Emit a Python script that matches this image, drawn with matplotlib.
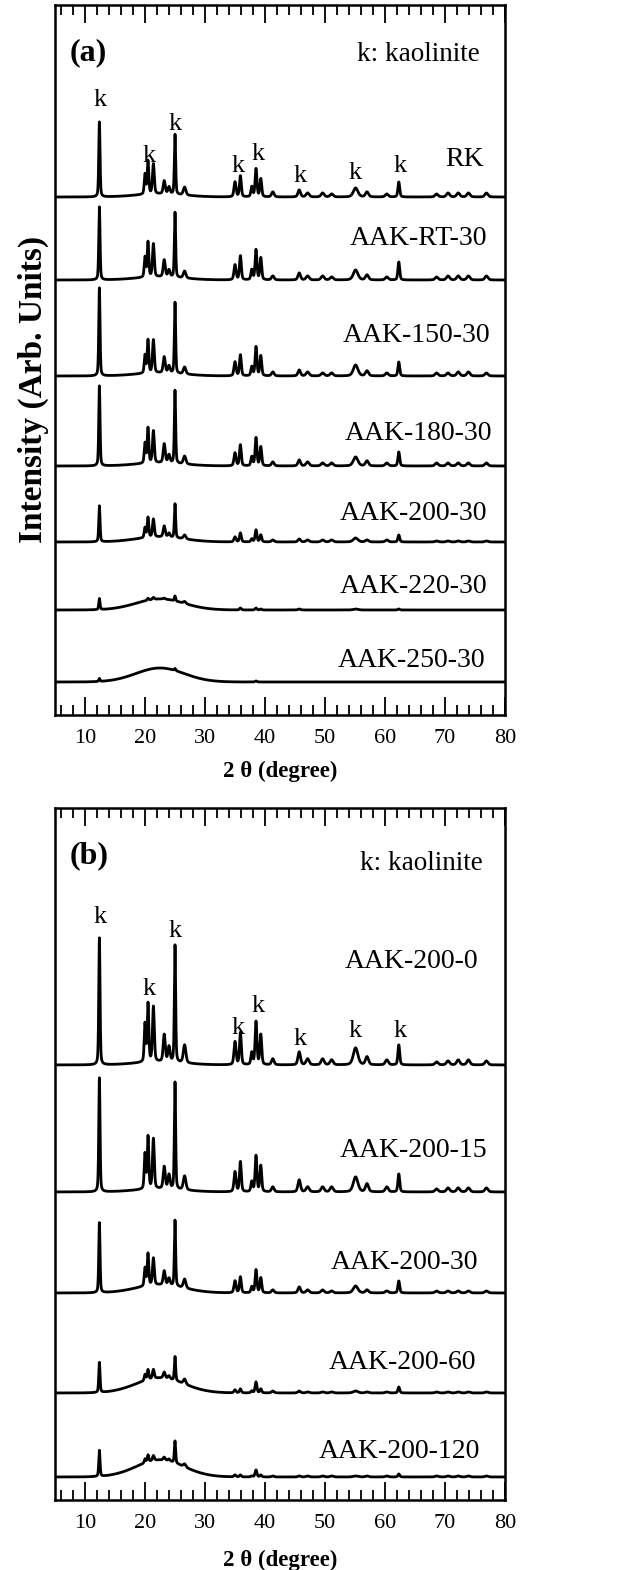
import numpy as np
import matplotlib
matplotlib.use("Agg")
import matplotlib.pyplot as plt
from matplotlib.ticker import MultipleLocator

plt.rcParams['font.family'] = ['Liberation Serif', 'DejaVu Serif']

# ---- data (heights in arb. units ~ pixels) ----
peak_pos = [12.4, 20.0, 20.5, 21.4, 23.2, 24.0, 25.0, 26.6, 35.0, 35.9, 37.8,
            38.5, 39.3, 41.3, 45.7, 47.1, 49.6, 51.1, 55.1, 57.0, 60.3, 62.3,
            68.6, 70.5, 72.2, 73.9, 76.9]
peak_fwhm = [0.25, 0.3, 0.3, 0.35, 0.4, 0.4, 0.25, 0.5, 0.4, 0.35, 0.35,
             0.35, 0.35, 0.5, 0.5, 0.6, 0.6, 0.6, 0.9, 0.6, 0.6, 0.35,
             0.6, 0.6, 0.6, 0.6, 0.6]

# panel (a): acid activation temperature series
names_a = ['RK', 'AAK-RT-30', 'AAK-150-30', 'AAK-180-30', 'AAK-200-30',
           'AAK-220-30', 'AAK-250-30']
base_a = [518, 435, 339, 249, 173, 105, 33]
hump_a = [3, 3, 3, 3, 5, 11, 14]
heights_a = [
    [75, 20, 33, 30, 13, 7, 60, 8, 15, 21, 10, 28, 18, 5, 7, 4, 4, 3, 9, 5, 3, 15, 3, 4, 4, 4, 4],
    [73, 20, 35, 33, 17, 7, 65, 7, 15, 24, 10, 30, 22, 4, 7, 4, 4, 3, 10, 5, 3, 18, 3, 4, 4, 4, 4],
    [88, 18, 33, 33, 16, 7, 71, 7, 14, 21, 9, 29, 20, 4, 6, 4, 3, 3, 11, 5, 3, 14, 3, 3, 4, 4, 3],
    [80, 20, 35, 32, 19, 8, 73, 8, 13, 21, 9, 28, 19, 4, 6, 4, 3, 3, 9, 5, 3, 14, 3, 3, 3, 3, 3],
    [36, 10, 20, 18, 11, 4, 34, 4, 5, 9, 3, 12, 7, 2, 3, 2, 2, 2, 4, 2, 2, 7, 1, 1, 1, 1, 1],
    [11, 0, 2, 2, 1, 0, 5, 2, 0, 2, 0, 2, 1, 0, 1, 0, 0, 0, 1, 0, 0, 1, 0, 0, 0, 0, 0],
    [3, 0, 0, 0, 0, 0, 2, 0, 0, 0, 0, 1, 0, 0, 0, 0, 0, 0, 0, 0, 0, 0, 0, 0, 0, 0, 0],
]
label_x_a = [76.5, 77.0, 77.5, 77.8, 77.0, 77.0, 76.7]
label_y_a = [549, 470, 373, 275, 195, 122, 48]

# panel (b): acid activation time series at 200 C
names_b = ['AAK-200-0', 'AAK-200-15', 'AAK-200-30', 'AAK-200-60', 'AAK-200-120']
base_b = [435, 308, 207, 107, 23]
hump_b = [3, 3, 8, 15, 17]
heights_b = [
    [127, 38, 58, 55, 27, 15, 117, 18, 23, 32, 12, 43, 30, 6, 13, 6, 6, 5, 17, 8, 5, 20, 3, 4, 5, 5, 4],
    [114, 35, 52, 50, 22, 14, 107, 14, 20, 30, 10, 36, 26, 5, 12, 5, 5, 5, 15, 8, 5, 18, 3, 4, 4, 4, 4],
    [70, 18, 32, 27, 14, 7, 66, 9, 12, 16, 6, 23, 15, 3, 6, 3, 3, 2, 7, 3, 2, 12, 2, 2, 2, 2, 2],
    [30, 6, 10, 9, 6, 3, 24, 5, 3, 4, 2, 11, 4, 2, 2, 1, 1, 1, 2, 1, 1, 6, 1, 1, 1, 1, 1],
    [26, 4, 7, 5, 3, 2, 22, 3, 2, 2, 1, 7, 2, 1, 1, 1, 1, 1, 1, 1, 1, 3, 1, 1, 1, 1, 1],
]
label_x_b = [75.5, 77.0, 75.5, 75.2, 75.8]
label_y_b = [532, 343, 231, 131, 42]

# kaolinite marker labels (2theta, baseline height)
k_pos = [12.5, 20.7, 25.0, 35.5, 38.8, 45.8, 55.1, 62.6]
k_y_a = [609, 553, 585, 543, 555, 533, 536, 543]
k_y_b = [577, 505, 563, 466, 488, 455, 463, 463]

two_theta = np.linspace(5, 80, 3001)


def pattern(heights, hump, base):
    y = np.full_like(two_theta, float(base))
    for p, w, h in zip(peak_pos, peak_fwhm, heights):
        g = np.exp(-4 * np.log(2) * ((two_theta - p) / w) ** 2)
        l = 1 / (1 + 4 * ((two_theta - p) / w) ** 2)
        y += h * (0.6 * g + 0.4 * l)
    y += hump * np.exp(-0.5 * ((two_theta - 22.5) / 4.0) ** 2)
    return y


def style_axes(ax, ymax, lpad):
    ax.set_xlim(5, 80)
    ax.set_ylim(0, ymax)
    ax.xaxis.set_major_locator(MultipleLocator(10))
    ax.xaxis.set_minor_locator(MultipleLocator(2))
    ax.tick_params(axis='x', which='both', direction='in', top=True,
                   labelsize=16, pad=10, width=1.3)
    ax.tick_params(axis='x', which='major', length=13)
    ax.tick_params(axis='x', which='minor', length=7)
    ax.set_yticks([])
    for s in ax.spines.values():
        s.set_linewidth(1.8)
    ax.set_xlabel('2 \u03b8 (degree)', fontsize=16.5, fontweight='bold',
                  labelpad=lpad)


fig = plt.figure(figsize=(6.3, 15.7), dpi=100)
ax_a = fig.add_axes([0.0873, 0.5446, 0.7143, 0.4522])
ax_b = fig.add_axes([0.0873, 0.0446, 0.7143, 0.4408])

for h, hu, b, nm, lx, ly in zip(heights_a, hump_a, base_a, names_a, label_x_a, label_y_a):
    ax_a.plot(two_theta, pattern(h, hu, b), color='black', lw=2.0)
    ax_a.text(lx, ly, nm, ha='right', va='baseline', fontsize=20)
for h, hu, b, nm, lx, ly in zip(heights_b, hump_b, base_b, names_b, label_x_b, label_y_b):
    ax_b.plot(two_theta, pattern(h, hu, b), color='black', lw=2.0)
    ax_b.text(lx, ly, nm, ha='right', va='baseline', fontsize=20)

for kx, ky in zip(k_pos, k_y_a):
    ax_a.text(kx, ky, 'k', ha='center', va='baseline', fontsize=19)
for kx, ky in zip(k_pos, k_y_b):
    ax_b.text(kx, ky, 'k', ha='center', va='baseline', fontsize=19)

style_axes(ax_a, 710, 9)
style_axes(ax_b, 692, 12)

ax_a.text(75.8, 654, 'k: kaolinite', ha='right', va='baseline', fontsize=19.5)
ax_b.text(76.3, 630, 'k: kaolinite', ha='right', va='baseline', fontsize=19.5)
ax_a.text(7.5, 655, '(a)', ha='left', va='baseline', fontsize=23, fontweight='bold')
ax_b.text(7.5, 637, '(b)', ha='left', va='baseline', fontsize=23, fontweight='bold')

ax_a.set_ylabel('Intensity (Arb. Units)', fontsize=24, fontweight='bold')
ax_a.yaxis.set_label_coords(-0.013, 0.458)

fig.savefig('out.png', dpi=100)
